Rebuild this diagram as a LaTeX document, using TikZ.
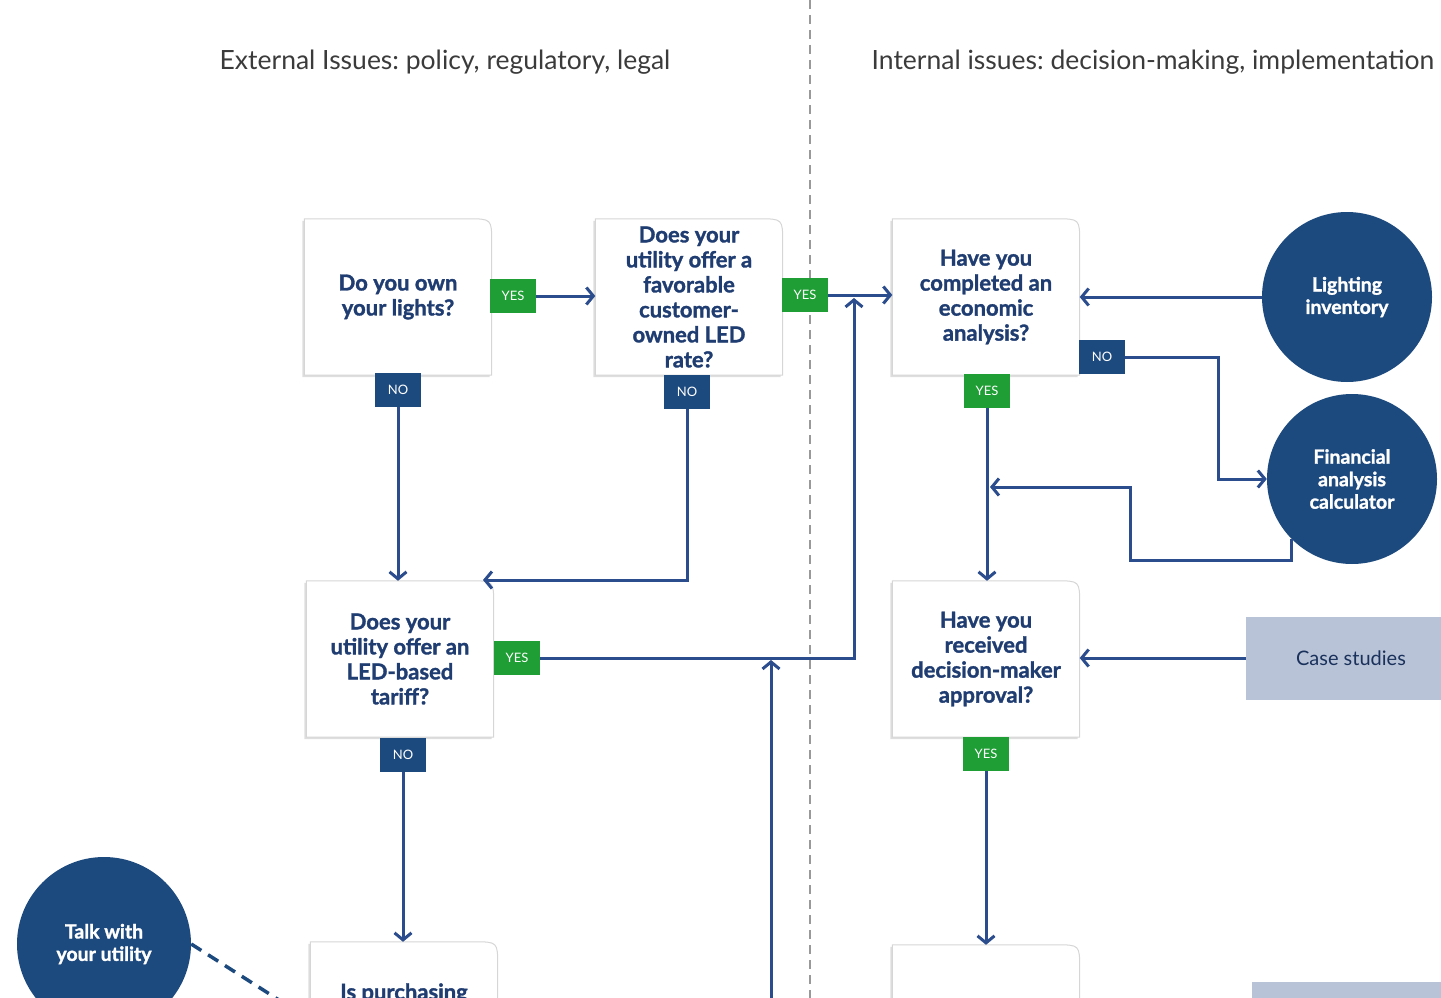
\documentclass[tikz,border=0pt]{standalone}
\usepackage{fontspec}
\setmainfont{Lato}[BoldFeatures={FakeBold=1.4}]
\usepackage{tikz}
\usetikzlibrary{arrows.meta}

\definecolor{navy}{HTML}{1D4A7E}
\definecolor{flowblue}{HTML}{2B4D8E}
\definecolor{qnavy}{HTML}{203D72}
\definecolor{okgreen}{HTML}{1E9E34}
\definecolor{slate}{HTML}{B9C3D7}
\definecolor{headgray}{HTML}{3B3B3B}

\tikzset{
	qframe/.style={minimum width=187pt, minimum height=156pt, inner sep=0pt},
	qtext/.style={text=qnavy, font=\fontsize{22}{25}\selectfont\bfseries, align=center},
	tag/.style={minimum width=46pt, minimum height=34pt, inner sep=0pt, text=white, font=\fontsize{13}{13}\selectfont},
	tagyes/.style={tag, fill=okgreen},
	tagno/.style={tag, fill=navy},
	flow/.style={draw=flowblue, line width=3pt, -{Straight Barb[length=7pt,width=17pt]}},
	link/.style={draw=navy, line width=3.5pt, dash pattern=on 12pt off 8pt},
	tool/.style={circle, fill=navy, minimum size=170pt, inner sep=0pt, text=white, align=center, font=\fontsize{19.5}{22.5}\selectfont\bfseries},
	refbox/.style={fill=slate, minimum width=210pt, minimum height=83pt, inner sep=0pt, text=qnavy!80!black, font=\fontsize{20}{22}\selectfont},
	head/.style={text=headgray, font=\fontsize{26.5}{30}\selectfont}
}

% outline of a question box, top right corner rounded
\newcommand{\qpath}[2]{([shift={#2}]#1.south west) -- ([shift={#2}]#1.north west) -- ([shift={#2},xshift=-24pt]#1.north east) .. controls ([shift={#2}]#1.north east) .. ([shift={#2},yshift=-24pt]#1.north east) -- ([shift={#2}]#1.south east) -- cycle}

\begin{document}
\frenchspacing
\begin{tikzpicture}[x=1pt, y=-1pt]
		\useasboundingbox (0,0) rectangle (1441,998);
		\clip (0,0) rectangle (1441,998);

		\draw[black!40, line width=2.5pt, dash pattern=on 9pt off 6pt] (810,0) -- (810,998);
		\node[head] (ext) at (445,62) {External Issues: policy, regulatory, legal};
		\node[head] (int) at (1153,62) {Internal issues: decision-making, implementation};

		\foreach \nm/\x/\y/\txt in{
				b1/398/297/{Do you own\\your lights?},
				b2/689/297/{Does your\\utility offer a\\favorable\\customer-\\owned LED\\rate?},
				b3/986/297/{Have you\\completed an\\economic\\analysis?},
				b4/400/659/{Does your\\utility offer an\\LED-based\\tariff?},
				b5/986/659/{Have you\\received\\decision-maker\\approval?},
				b6/404/1020/{},
				b7/986/1023/{}
		}{
		\node[qframe](\nm) at (\x,\y){};
		\fill[black!13] \qpath{\nm}{(-2,2)};
		\filldraw[fill=white, draw=black!16, line width=1pt] \qpath{\nm}{(0,0)};
		\node[qtext] at (\nm) {\txt};
		}
		\node[qtext, anchor=north] (b6t) at ([yshift=-38pt]b6.north) {Is purchasing};

		\foreach \nm/\x/\y/\kind/\txt in{
				y1/513/296/tagyes/YES,
				n1/398/390/tagno/NO,
				y2/805/295/tagyes/YES,
				n2/687/392/tagno/NO,
				y3/987/391/tagyes/YES,
				n3/1102/357/tagno/NO,
				y4/517/658/tagyes/YES,
				n4/403/755/tagno/NO,
				y5/986/754/tagyes/YES
		}{
		\node[\kind](\nm) at (\x,\y){\txt};
		}

		\node[tool] (inv) at (1347,297) {Lighting\\inventory};
		\node[tool] (fin) at (1352,479) {Financial\\analysis\\calculator};
		\node[tool, minimum size=174pt] (talk) at (104,944) {Talk with\\your utility};
		\node[refbox] (cases) at (1351,658) {Case studies};
		\node[refbox] (more) at (1357,1023) {};

		\coordinate (c2) at (483,580);
		\coordinate (j1) at (854,298);
		\coordinate (up) at (771,998);
		\coordinate (j2) at (771,660);
		\coordinate (j3) at (990,487);

		\draw[flow] (y1.east) -- (y1.east -| b2.west);
		\draw[flow] (y2.east) -- (y2.east -| b3.west);
		\draw[flow] (n1.south) -- (n1.south |- b4.north);
		\draw[flow] (n2.south) |- (c2);
		\draw[flow] (y4.east) -| (j1);
		\draw[flow] (up) -- (j2);
		\draw[flow] (n4.south) -- (n4.south |- b6.north);

		\draw[flow] (inv.west) -- (inv.west -| b3.east);
		\draw[flow] (n3.east) -- ++(93,0) |- (fin.west);
		\draw[flow] (y3.south) -- (y3.south |- b5.north);
		\draw[flow] (fin.225) -- ++(0,21) -| (1130,487) -- (j3);
		\draw[flow] (cases.west) -- (cases.west -| b5.east);
		\draw[flow] (y5.south) -- (y5.south |- b7.north);

		\draw[link] (talk.east) -- (b6.west);
\end{tikzpicture}
\end{document}
